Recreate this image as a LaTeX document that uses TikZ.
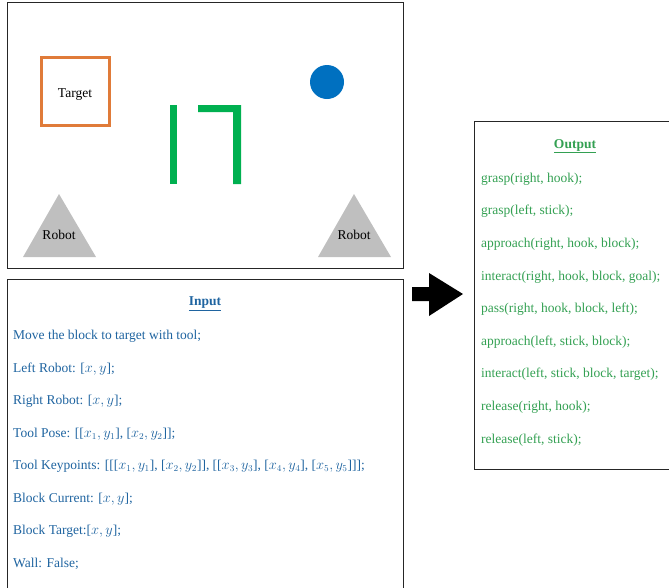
\documentclass[tikz,border=0pt]{standalone}
\usepackage{fontspec}
\setmainfont{Liberation Serif}
\usetikzlibrary{positioning}

\definecolor{targetorange}{HTML}{E07B39}
\definecolor{blockblue}{HTML}{0070C0}
\definecolor{toolgreen}{HTML}{00B050}
\definecolor{robotgray}{HTML}{BFBFBF}
\definecolor{inblue}{HTML}{1F64A0}
\definecolor{outgreen}{HTML}{33A052}

\newcommand{\txtsize}{\fontsize{13.5}{16}\selectfont}

\tikzset{
  frame/.style={draw=black!85, line width=0.9pt},
  robot/.style={fill=robotgray, draw=none},
  tool/.style={fill=toolgreen, draw=none},
  label/.style={font=\txtsize, yshift=-2pt},
  inline/.style={anchor=west, text=inblue, font=\txtsize, inner sep=0pt, yshift=-2pt},
  outline/.style={anchor=west, text=outgreen, font=\txtsize, inner sep=0pt, yshift=-2pt},
}

\begin{document}
\begin{tikzpicture}[x=1pt, y=-1pt]
        \useasboundingbox (0,0) rectangle (669,587);
        % scene
        \draw[frame] (7,2) rectangle (403,268);
        \draw[targetorange, line width=3pt] (41,57) rectangle (109,125);
        \node[label] (target) at (75,93) {Target};
        \fill[blockblue] (327,82) circle (17);
        \fill[tool] (170,105) rectangle (177,184);
        \fill[tool] (198,105) -- (241,105) -- (241,184) -- (233,184) -- (233,112) -- (198,112) -- cycle;
        \fill[robot] (59,194) -- (96,257) -- (23,257) -- cycle;
        \fill[robot] (354,194) -- (391,257) -- (318,257) -- cycle;
        \node[label] (lrobot) at (59,233) {Robot};
        \node[label] (rrobot) at (354,233) {Robot};
        % input
        \draw[frame] (7,590) -- (7,279) -- (403,279) -- (403,590);
        \node[label, text=inblue, font=\txtsize\bfseries] (intitle) at (205,302) {\underline{Input}};
        \node[inline] (in1) at (13,334) {Move the block to target with tool;};
        \node[inline] (in2) at (13,367) {Left Robot: [$x,y$];};
        \node[inline] (in3) at (13,399) {Right Robot: [$x,y$];};
        \node[inline] (in4) at (13,432) {Tool Pose: [[$x_1,y_1$], [$x_2,y_2$]];};
        \node[inline] (in5) at (13,464) {Tool Keypoints: [[[$x_1,y_1$], [$x_2,y_2$]], [[$x_3,y_3$], [$x_4,y_4$], [$x_5,y_5$]]];};
        \node[inline] (in6) at (13,497) {Block Current: [$x,y$];};
        \node[inline] (in7) at (13,529) {Block Target:[$x,y$];};
        \node[inline] (in8) at (13,562) {Wall: False;};
        % arrow
        \fill[black] (412,287) -- (429,287) -- (429,273) -- (463,294) -- (429,316) -- (429,301) -- (412,301) -- cycle;
        % output
        \draw[frame] (675,121) -- (474,121) -- (474,469) -- (675,469);
        \node[label, text=outgreen, font=\txtsize\bfseries] (outtitle) at (575,144) {\underline{Output}};
        \foreach \txt [count=\i] in {grasp(right{,} hook);, grasp(left{,} stick);,
            approach(right{,} hook{,} block);, interact(right{,} hook{,} block{,} goal);,
            pass(right{,} hook{,} block{,} left);, approach(left{,} stick{,} block);,
            interact(left{,} stick{,} block{,} target);, release(right{,} hook);,
            release(left{,} stick);}
          \node[outline] (out\i) at (481,{177+32.6*(\i-1)}) {\txt};
\end{tikzpicture}
\end{document}
